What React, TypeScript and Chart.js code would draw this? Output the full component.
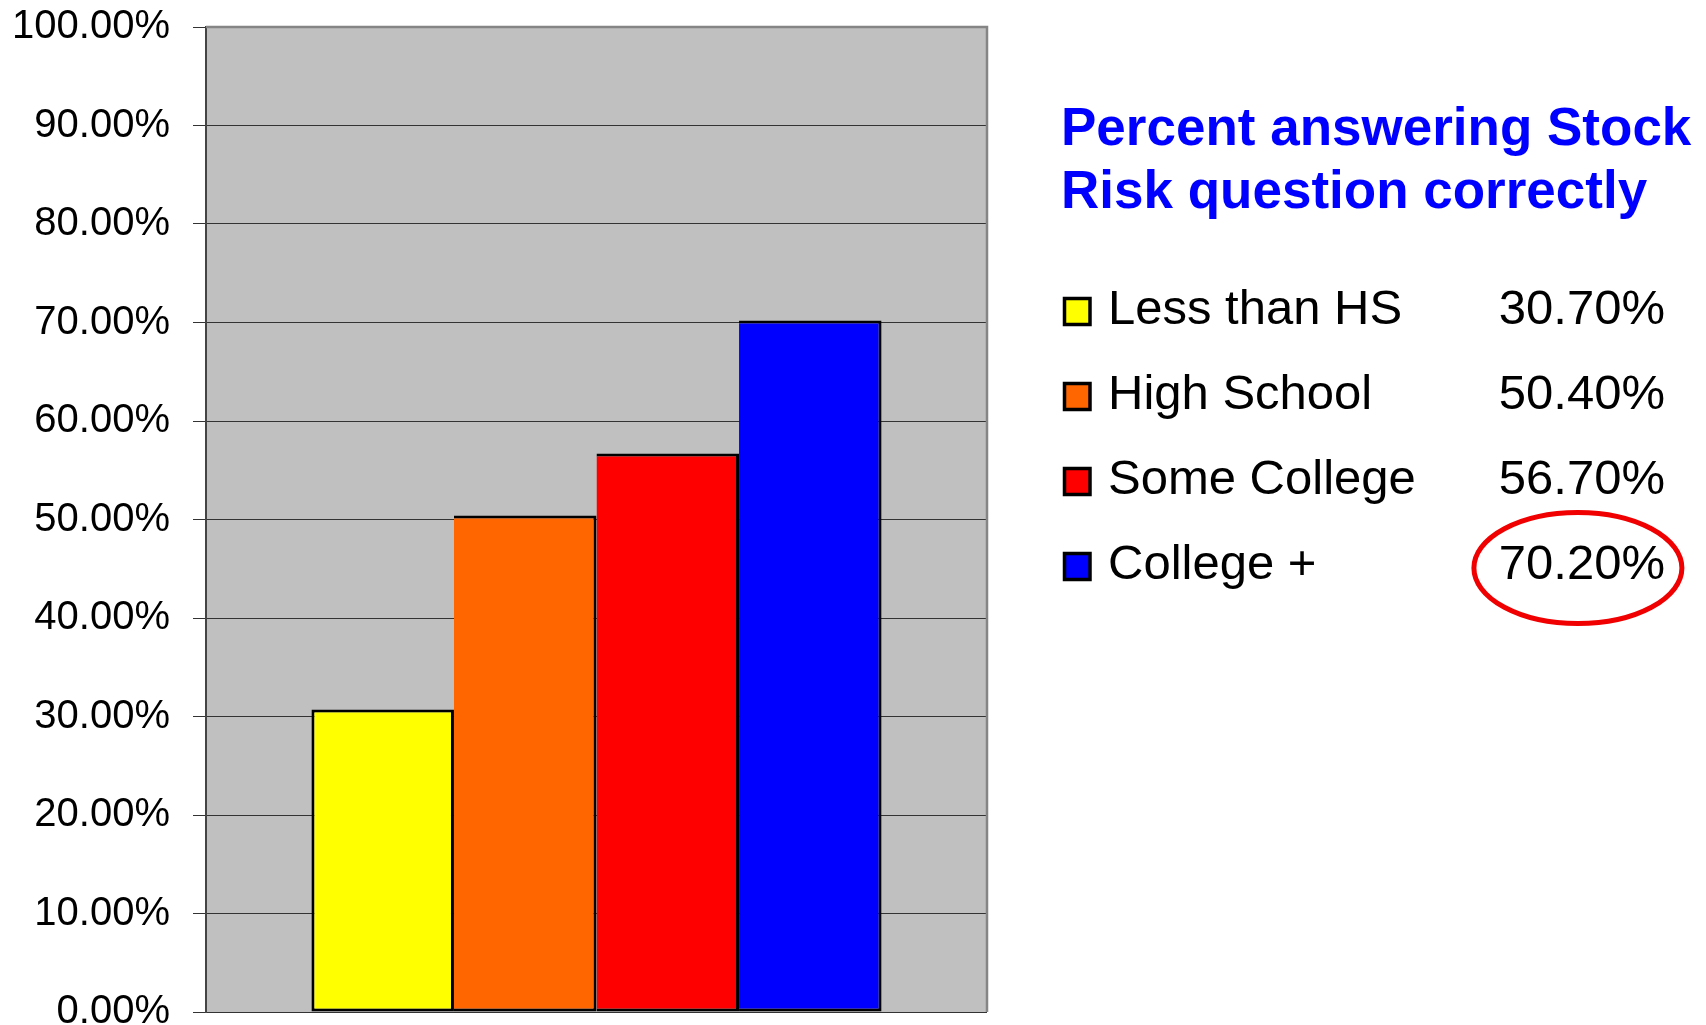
import React, { useEffect, useRef } from "react";
import { Chart, registerables } from "chart.js";

Chart.register(...registerables);

// Education groups and the share answering the stock-risk question correctly (%)
const categories = ["Less than HS", "High School", "Some College", "College +"];
const percentCorrect = [30.7, 50.4, 56.7, 70.2];
const seriesColors = ["#FFFF00", "#FF6600", "#FF0000", "#0000FF"];
const titleLines = ["Percent answering Stock", "Risk question correctly"];
const axisMin = 0;
const axisMax = 100;
const axisStep = 10;

const FONT = '"Liberation Sans", Arial, Helvetica, sans-serif';
const fmtPct = (v: number) => v.toFixed(2) + "%";

function drawText(
  ctx: CanvasRenderingContext2D,
  text: string,
  x: number,
  y: number,
  font: string,
  color: string,
  align: CanvasTextAlign
) {
  ctx.save();
  ctx.font = font;
  ctx.fillStyle = color;
  ctx.textAlign = align;
  ctx.textBaseline = "alphabetic";
  ctx.fillText(text, x, y);
  ctx.restore();
}

// Grey plot background plus the top/right frame
const plotFrame = {
  id: "plotFrame",
  beforeDraw(chart: any) {
    const { ctx, chartArea: a } = chart;
    ctx.save();
    ctx.fillStyle = "#C0C0C0";
    ctx.fillRect(a.left, a.top, a.right - a.left, a.bottom - a.top);
    ctx.restore();
  },
  beforeDatasetsDraw(chart: any) {
    const { ctx, chartArea: a } = chart;
    ctx.save();
    ctx.strokeStyle = "#858585";
    ctx.lineWidth = 2.5;
    ctx.beginPath();
    ctx.moveTo(a.left, a.top);
    ctx.lineTo(a.right, a.top);
    ctx.lineTo(a.right, a.bottom);
    ctx.stroke();
    ctx.restore();
  },
};

// Title and value legend on the right, with the top value circled
const sideLegend = {
  id: "sideLegend",
  afterDraw(chart: any) {
    const ctx: CanvasRenderingContext2D = chart.ctx;
    const titleFont = `bold 53px ${FONT}`;
    titleLines.forEach((line, i) => {
      drawText(ctx, line, 1061, 145 + i * 63.3, titleFont, "#0000FF", "left");
    });

    const rowFont = `49px ${FONT}`;
    const valueRight = 1665;
    const firstBaseline = 324;
    const rowGap = 85;
    let maxIdx = 0;
    percentCorrect.forEach((v, i) => {
      if (v > percentCorrect[maxIdx]) maxIdx = i;
    });

    categories.forEach((label, i) => {
      const base = firstBaseline + i * rowGap;
      // swatch
      ctx.save();
      ctx.fillStyle = seriesColors[i];
      ctx.fillRect(1064.5, base - 25.5, 25.5, 26);
      ctx.strokeStyle = "#000";
      ctx.lineWidth = 3.5;
      ctx.strokeRect(1064.5, base - 25.5, 25.5, 26);
      ctx.restore();

      drawText(ctx, label, 1108, base, rowFont, "#000", "left");
      drawText(ctx, fmtPct(percentCorrect[i]), valueRight, base, rowFont, "#000", "right");

      if (i === maxIdx) {
        ctx.save();
        ctx.font = rowFont;
        const w = ctx.measureText(fmtPct(percentCorrect[i])).width;
        ctx.strokeStyle = "#F00000";
        ctx.lineWidth = 5;
        ctx.beginPath();
        ctx.ellipse(valueRight - w / 2 - 4, base - 11, 104, 55.5, 0, 0, Math.PI * 2);
        ctx.stroke();
        ctx.restore();
      }
    });
  },
};

export default function App() {
  const canvasRef = useRef<HTMLCanvasElement | null>(null);

  useEffect(() => {
    document.body.style.margin = "0";
    document.body.style.overflow = "hidden";
    const canvas = canvasRef.current;
    if (!canvas) return;

    const chart = new Chart(canvas, {
      type: "bar",
      data: {
        labels: [""],
        datasets: categories.map((name, i) => ({
          label: name,
          data: [percentCorrect[i]],
          backgroundColor: seriesColors[i],
          borderColor: "#000000",
          borderWidth: 3,
          borderSkipped: i === 0 ? false : "left",
          categoryPercentage: 0.73,
          barPercentage: 1,
        })),
      },
      options: {
        responsive: false,
        animation: false,
        devicePixelRatio: 1,
        layout: { padding: { left: 0, top: 27, right: 719, bottom: 13 } },
        plugins: {
          legend: { display: false },
          tooltip: { enabled: false },
          title: { display: false },
        },
        scales: {
          x: { display: false },
          y: {
            min: axisMin,
            max: axisMax,
            ticks: {
              stepSize: axisStep,
              padding: 23,
              color: "#000000",
              font: { family: FONT, size: 40 },
              callback: (v: any) => fmtPct(Number(v)),
            },
            grid: {
              color: "#333333",
              lineWidth: 1,
              drawTicks: true,
              tickLength: 13,
              tickColor: "#333333",
            },
            border: { display: true, color: "#444444", width: 2 },
            afterFit: (s: any) => {
              s.width = 206;
              s.paddingTop = 0;
              s.paddingBottom = 0;
            },
          },
        },
      },
      plugins: [plotFrame, sideLegend],
    });

    return () => chart.destroy();
  }, []);

  return (
    <div style={{ position: "fixed", left: 0, top: 0, width: 1706, height: 1025, background: "#fff" }}>
      <canvas ref={canvasRef} width={1706} height={1025} style={{ display: "block" }} />
    </div>
  );
}
